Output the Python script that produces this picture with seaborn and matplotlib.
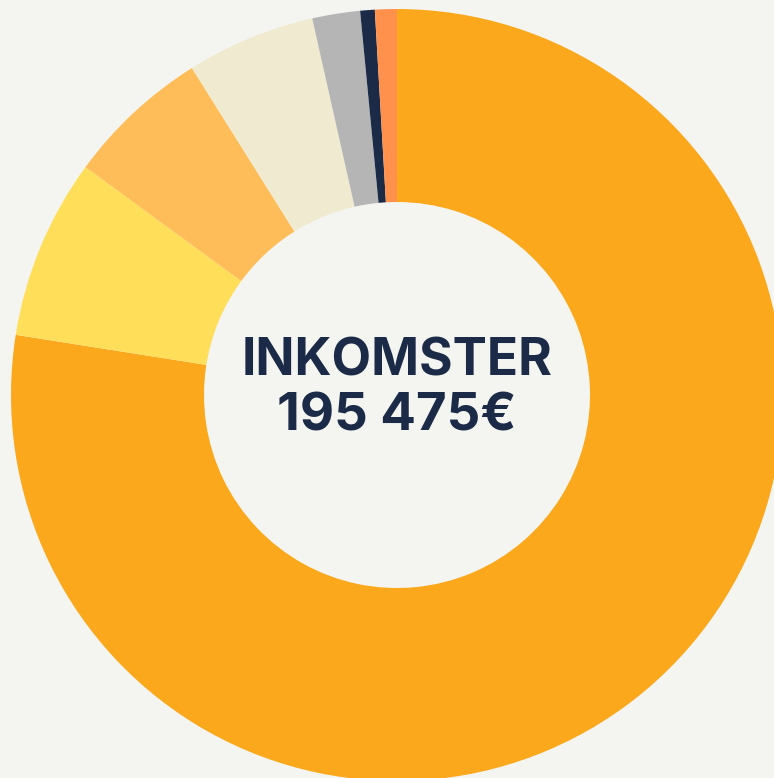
import matplotlib
matplotlib.use("Agg")
import matplotlib.pyplot as plt
import seaborn as sns

categories = ["Main", "Yellow", "Light orange", "Cream", "Gray", "Navy", "Coral"]
values = [151475, 14780, 11790, 10540, 3910, 1190, 1790]
colors = ["#FBA81C", "#FFDE59", "#FFBD59", "#F0EAD0", "#B5B5B5", "#1B2A47", "#FF914D"]
title = "INKOMSTER"
total_label = "195 475€"

bg = "#F4F5F0"
sns.set_style("white")
plt.rcParams["font.family"] = ["Inter", "DejaVu Sans"]

fig = plt.figure(figsize=(7.74, 7.78), dpi=100, facecolor=bg)
ax = fig.add_axes([0, 0, 1, 1])
ax.set_facecolor(bg)

ax.pie(values, colors=sns.color_palette(colors), startangle=90, counterclock=False,
       radius=1.0, wedgeprops=dict(width=0.5, edgecolor="none"))

ax.text(0, 0.085, title, ha="center", va="center", fontsize=37, fontweight="bold", color="#1B2A47")
ax.text(0, -0.058, total_label, ha="center", va="center", fontsize=38, fontweight="bold", color="#1B2A47")

ax.set_xlim(-1.0285, 0.9767)
ax.set_ylim(-0.9922, 1.0233)
ax.set_aspect("equal")
ax.axis("off")

fig.savefig("out.png", dpi=100, facecolor=bg)
